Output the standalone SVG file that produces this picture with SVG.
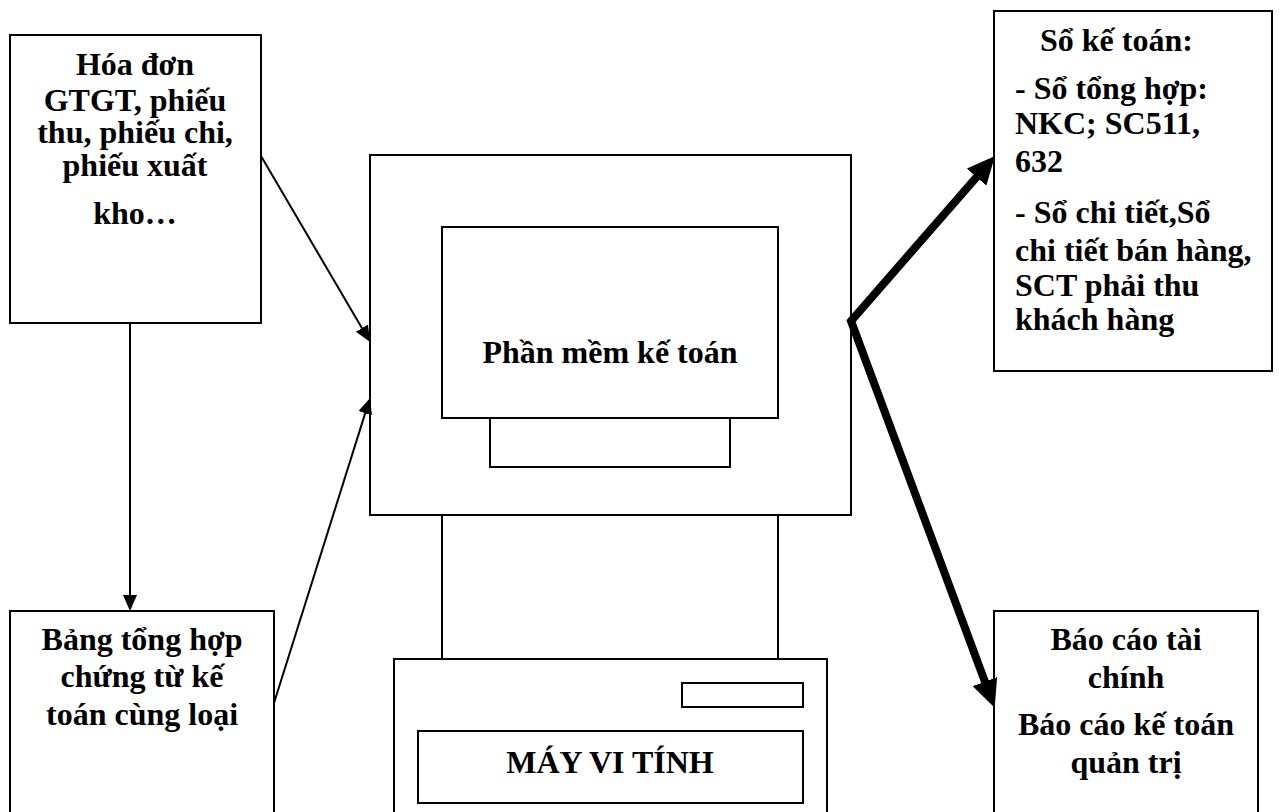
<svg xmlns="http://www.w3.org/2000/svg" width="1279" height="812" viewBox="0 0 1279 812">
<style>
.box{fill:#fff;stroke:#000;stroke-width:2}
.ln{fill:none;stroke:#000;stroke-width:2}
.t{font-family:"Liberation Serif","Times New Roman",serif;font-weight:bold;font-size:32px;fill:#000}
.c{text-anchor:middle}
.thin{fill:none;stroke:#000;stroke-width:2}
.thick{fill:none;stroke:#000;stroke-width:8;stroke-linejoin:miter;stroke-miterlimit:10}
</style>
<defs>
<marker id="ah" markerUnits="userSpaceOnUse" markerWidth="16" markerHeight="14" refX="8" refY="7" orient="auto">
<path d="M0,0 L16,7 L0,14 z" fill="#000"/>
</marker>
<marker id="ahb" markerUnits="userSpaceOnUse" markerWidth="28" markerHeight="26" refX="8" refY="13" orient="auto-start-reverse">
<path d="M0,0 L28,13 L0,26 z" fill="#000"/>
</marker>
</defs>
<rect width="1279" height="812" fill="#fff"/>

<g id="hoa-don">
<rect class="box" x="10" y="35" width="251" height="288"/>
<text class="t c" x="135" y="75">Hóa đơn</text>
<text class="t c" x="135" y="111">GTGT, phiếu</text>
<text class="t c" x="135" y="143">thu, phiếu chi,</text>
<text class="t c" x="135" y="176">phiếu xuất</text>
<text class="t c" x="135" y="224">kho…</text>
</g>

<g id="bang-tong-hop">
<rect class="box" x="10" y="611" width="264" height="215"/>
<text class="t c" x="142" y="650">Bảng tổng hợp</text>
<text class="t c" x="142" y="687">chứng từ kế</text>
<text class="t c" x="142" y="725">toán cùng loại</text>
</g>

<g id="may-vi-tinh">
<rect class="box" x="370" y="155" width="481" height="360"/>
<rect class="box" x="442" y="227" width="336" height="191"/>
<rect class="box" x="490" y="418" width="240" height="49"/>
<text class="t c" x="610" y="363">Phần mềm kế toán</text>
<line class="ln" x1="442" y1="515" x2="442" y2="659"/>
<line class="ln" x1="778" y1="515" x2="778" y2="659"/>
<rect class="box" x="394" y="659" width="433" height="170"/>
<rect class="box" x="682" y="683" width="121" height="24"/>
<rect class="box" x="418" y="731" width="385" height="72"/>
<text class="t c" x="610" y="773">MÁY VI TÍNH</text>
</g>

<g id="so-ke-toan">
<rect class="box" x="994" y="11" width="278" height="360"/>
<text class="t" x="1040" y="51">Sổ kế toán:</text>
<text class="t" x="1015" y="99">- Sổ tổng hợp:</text>
<text class="t" x="1015" y="134">NKC; SC511,</text>
<text class="t" x="1015" y="172">632</text>
<text class="t" x="1015" y="223">- Sổ chi tiết,Sổ</text>
<text class="t" x="1015" y="261">chi tiết bán hàng,</text>
<text class="t" x="1015" y="296">SCT phải thu</text>
<text class="t" x="1015" y="330">khách hàng</text>
</g>

<g id="bao-cao">
<rect class="box" x="994" y="611" width="264" height="215"/>
<text class="t c" x="1126" y="650">Báo cáo tài</text>
<text class="t c" x="1126" y="688">chính</text>
<text class="t c" x="1126" y="735">Báo cáo kế toán</text>
<text class="t c" x="1126" y="773">quản trị</text>
</g>

<g id="connectors">
<line class="thin" x1="130" y1="323" x2="130" y2="603" marker-end="url(#ah)"/>
<line class="thin" x1="261" y1="156" x2="366" y2="335" marker-end="url(#ah)"/>
<line class="thin" x1="274" y1="703" x2="367.6" y2="405.6" marker-end="url(#ah)"/>
<path class="thick" d="M981.8,171.1 L851,321 L987.7,689.1" marker-start="url(#ahb)" marker-end="url(#ahb)"/>
</g>
</svg>
